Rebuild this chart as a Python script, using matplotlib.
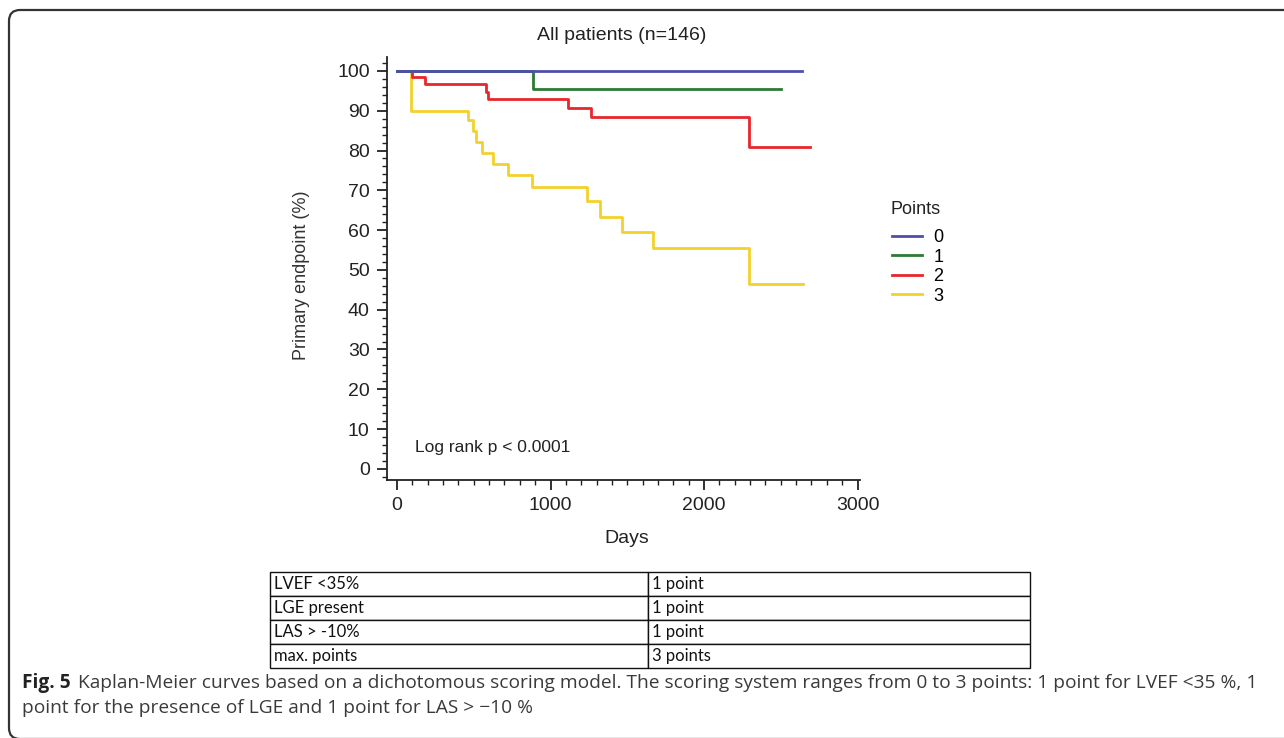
import matplotlib
matplotlib.use("Agg")
import matplotlib.pyplot as plt
from matplotlib.patches import FancyBboxPatch
from matplotlib.transforms import IdentityTransform
from matplotlib.ticker import MultipleLocator

# Kaplan-Meier step data (days, % free of primary endpoint)
blue_days = [0, 2636]
blue_surv = [100, 100]
green_days = [0, 884, 2502]
green_surv = [100, 95.5, 95.5]
red_days = [0, 96, 182, 578, 595, 1112, 1264, 2293, 2690]
red_surv = [100, 98.4, 96.6, 94.8, 92.9, 90.6, 88.4, 81.0, 81.0]
yellow_days = [0, 89, 465, 497, 515, 552, 628, 725, 877, 1236, 1322, 1464, 1670, 2293, 2647]
yellow_surv = [100, 90.0, 87.6, 84.8, 82.1, 79.3, 76.6, 73.8, 70.9, 67.2, 63.4, 59.6, 55.6, 46.4, 46.4]

group_labels = ["0", "1", "2", "3"]
group_colors = ["#4f4fab", "#2c7a36", "#e8262b", "#f3d02c"]

table_rows = [["LVEF <35%", "1 point"],
              ["LGE present", "1 point"],
              ["LAS > -10%", "1 point"],
              ["max. points", "3 points"]]

caption_1 = ("Kaplan-Meier curves based on a dichotomous scoring model. The scoring system ranges "
             "from 0 to 3 points: 1 point for LVEF <35 %, 1")
caption_2 = "point for the presence of LGE and 1 point for LAS > \u221210 %"

plt.rcParams['font.family'] = ['Liberation Sans', 'DejaVu Sans']

fig = plt.figure(figsize=(12.84, 7.38), dpi=100)

# outer rounded frame (open at right / bottom like the source crop)
frame = FancyBboxPatch((9, -1), 1400, 729, boxstyle="round,pad=0,rounding_size=11",
                       transform=IdentityTransform(), fill=False, ec="#333333", lw=1.6)
fig.patches.append(frame)

ax = fig.add_axes([387 / 1284, 1 - 480 / 738, 473 / 1284, 423 / 738])

series = [(blue_days, blue_surv), (green_days, green_surv),
          (red_days, red_surv), (yellow_days, yellow_surv)]
# draw yellow first so the others sit on top like in the original
for i in [3, 2, 1, 0]:
    d, s = series[i]
    ax.step(d, s, where="post", color=group_colors[i], lw=2.0, label=group_labels[i])

ax.set_xlim(-65, 3016)
ax.set_ylim(-2.8, 103.5)
ax.spines['top'].set_visible(False)
ax.spines['right'].set_visible(False)
for sp in ['left', 'bottom']:
    ax.spines[sp].set_linewidth(1.3)
    ax.spines[sp].set_color("#222222")

ax.xaxis.set_major_locator(MultipleLocator(1000))
ax.xaxis.set_minor_locator(MultipleLocator(100))
ax.yaxis.set_major_locator(MultipleLocator(10))
ax.yaxis.set_minor_locator(MultipleLocator(2))
ax.tick_params(which='major', direction='out', length=7.5, width=1.3, color="#222222",
               labelsize=14, labelcolor="#222222", pad=5)
ax.tick_params(which='minor', direction='out', length=3.5, width=1.0, color="#222222")

ax.set_xlabel("Days", fontsize=14, color="#222222")
ax.xaxis.set_label_coords(0.507, -0.118)
ax.set_ylabel("Primary endpoint (%)", fontsize=13, color="#333333")
ax.yaxis.set_label_coords(-0.162, 0.485)

ax.text(117, 5.3, "Log rank p < 0.0001", fontsize=12.5, color="#222222", va="center", ha="left")

handles, labels = ax.get_legend_handles_labels()
order = [labels.index(l) for l in group_labels]
leg = ax.legend([handles[k] for k in order], [labels[k] for k in order],
                loc="upper left", bbox_to_anchor=(883 / 1284, 1 - 220 / 738),
                bbox_transform=fig.transFigure, frameon=False, fontsize=13,
                handlelength=1.65, handletextpad=0.65, labelspacing=0.14, borderpad=0)
fig.text(890 / 1284, 1 - 209 / 738, "Points", fontsize=13, color="#222222",
         ha="left", va="center")

fig.text(622 / 1284, 1 - 36 / 738, "All patients (n=146)", fontsize=14, color="#222222",
         ha="center", va="center")

# scoring table
tax = fig.add_axes([270 / 1284, 1 - 668 / 738, 760 / 1284, 96 / 738])
tax.axis("off")
tbl = tax.table(cellText=table_rows, colWidths=[0.497, 0.503], cellLoc="left",
                bbox=[0, 0, 1, 1])
tbl.auto_set_font_size(False)
for (r, c), cell in tbl.get_celld().items():
    cell.set_linewidth(1.0)
    cell.set_edgecolor("#111111")
    cell.PAD = 0.01
    cell.get_text().set_fontsize(12)
    cell.get_text().set_fontfamily("Lato")
    cell.get_text().set_color("#111111")

# caption
cap_size = 13.8
fig_lbl = fig.text(22 / 1284, 1 - 683 / 738, "Fig. 5", fontsize=cap_size, fontweight="bold",
                   family="Open Sans", color="#222222", va="center")
renderer = fig.canvas.get_renderer()
bb = fig_lbl.get_window_extent(renderer=renderer)
fig.text((bb.x1 + 7) / 1284, 1 - 683 / 738, caption_1, fontsize=cap_size, family="Open Sans",
         color="#3a3a3a", va="center")
fig.text(22 / 1284, 1 - 708 / 738, caption_2, fontsize=cap_size, family="Open Sans",
         color="#3a3a3a", va="center")

fig.savefig("out.png", dpi=100)
